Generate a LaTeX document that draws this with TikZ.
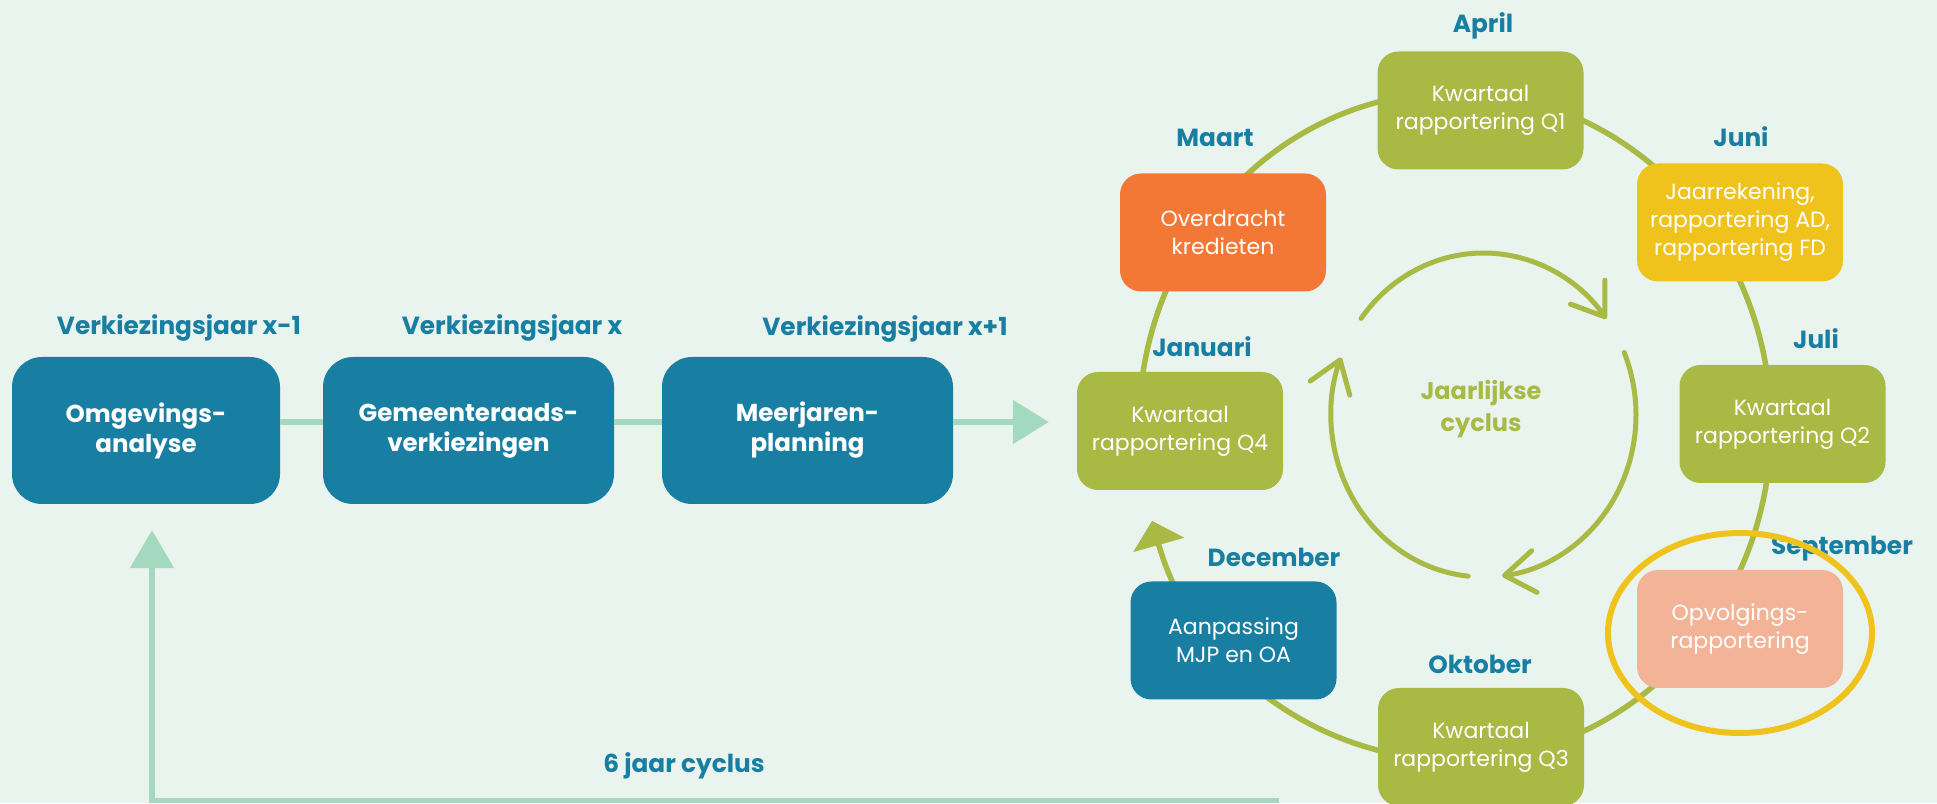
\documentclass[tikz,border=0pt]{standalone}
\usepackage{fontspec}
\setmainfont{Poppins}
\usetikzlibrary{arrows.meta}
\definecolor{bgc}{HTML}{EAF4EE}
\definecolor{mteal}{HTML}{187FA3}
\definecolor{mgreen}{HTML}{A8B944}
\definecolor{morange}{HTML}{F47835}
\definecolor{myellow}{HTML}{EFC21C}
\definecolor{msalmon}{HTML}{F2B396}
\definecolor{mmint}{HTML}{A3D9BF}
\definecolor{mring}{HTML}{F0C21C}
\begin{document}
\begin{tikzpicture}[x=1pt,y=1pt,
  bigbox/.style={fill=mteal, rounded corners=30pt, minimum width=291pt, minimum height=147pt, inner sep=0pt, text=white, font=\bfseries\fontsize{24.5}{30}\selectfont, align=center},
  cbox/.style={rounded corners=21pt, minimum width=206pt, minimum height=118pt, inner sep=0pt, text=white, font=\fontsize{22}{28}\selectfont, align=center},
  lbl/.style={text=mteal, font=\bfseries\fontsize{24.8}{28}\selectfont, anchor=base, inner sep=0pt},
  ring/.style={draw=mgreen, line width=5.5pt},
  inarc/.style={draw=mgreen, line width=5pt, line cap=round},
  barb/.style={-{Straight Barb[length=30pt,width=42pt,line width=5pt,round]}},
  mline/.style={draw=mmint, line width=5.5pt},
]
\fill[bgc] (0,0) rectangle (1937,803);
\useasboundingbox (0,0) rectangle (1937,803);
\clip (0,0) rectangle (1937,803);

% outer yearly ring
\coordinate (oc) at (1455,377);
\draw[ring, -{Triangle[length=25pt,width=52pt]}] ([shift={(185:316pt and 334pt)}]oc) arc[start angle=545, end angle=196.5, x radius=316pt, y radius=334pt];

% inner cycle arrows
\coordinate (ic) at (1483.5,388);
\draw[inarc, barb] ([shift={(143.4:152.5pt and 162pt)}]ic) arc[start angle=143.4, end angle=36.4, x radius=152.5pt, y radius=162pt];
\draw[inarc, barb] ([shift={(22.7:152.5pt and 162pt)}]ic) arc[start angle=22.7, end angle=-83, x radius=152.5pt, y radius=162pt];
\draw[inarc, barb] ([shift={(264.2:152.5pt and 162pt)}]ic) arc[start angle=264.2, end angle=159.2, x radius=152.5pt, y radius=162pt];

\node[text=mgreen, font=\bfseries\fontsize{24}{32}\selectfont, align=center] (jc) at (1481,394) {Jaarlijkse\\cyclus};

% cycle boxes
\node[cbox, fill=mgreen] (q1) at (1480.5,692.5) {Kwartaal\\rapportering Q1};
\node[cbox, fill=morange] (ov) at (1223,570.5) {Overdracht\\kredieten};
\node[cbox, fill=myellow] (jr) at (1740,580.5) {Jaarrekening,\\rapportering AD,\\rapportering FD};
\node[cbox, fill=mgreen] (q4) at (1180,372) {Kwartaal\\rapportering Q4};
\node[cbox, fill=mgreen] (q2) at (1782.5,379) {Kwartaal\\rapportering Q2};
\node[cbox, fill=msalmon] (op) at (1740,174) {Opvolgings-\\rapportering};
\node[cbox, fill=mteal] (aa) at (1233.5,162.5) {Aanpassing\\MJP en OA};
\node[cbox, fill=mgreen] (q3) at (1481,56) {Kwartaal\\rapportering Q3};

% month labels
\node[lbl] (lapr) at (1483,770) {April};
\node[lbl] (lmrt) at (1215,656) {Maart};
\node[lbl] (ljun) at (1741,656) {Juni};
\node[lbl] (ljan) at (1202,446) {Januari};
\node[lbl] (ljul) at (1816,454) {Juli};
\node[lbl] (ldec) at (1274,236) {December};
\node[lbl] (lokt) at (1480,129) {Oktober};
\node[lbl] (lsep) at (1842,248) {September};

% highlight ring
\draw[draw=mring, line width=6pt] (1740,170) ellipse [x radius=132pt, y radius=100pt];

% six-year part
\node[bigbox, minimum width=268pt] (o) at (146,372.5) {Omgevings-\\analyse};
\node[bigbox] (g) at (468.5,372.5) {Gemeenteraads-\\verkiezingen};
\node[bigbox] (m) at (807.5,372.5) {Meerjaren-\\planning};

\node[lbl] (l1) at (179,468) {Verkiezingsjaar x-1};
\node[lbl] (l2) at (512,468) {Verkiezingsjaar x};
\node[lbl] (l3) at (885,467) {Verkiezingsjaar x+1};

\draw[mline] ([yshift=8.5pt]o.east) -- ([yshift=8.5pt]g.west);
\draw[mline] ([yshift=8.5pt]g.east) -- ([yshift=8.5pt]m.west);
\draw[mline, -{Triangle[length=36pt,width=43pt]}] ([yshift=8.5pt]m.east) -- ([xshift=-28pt,yshift=9pt]q4.west);

\coordinate (cend) at (1279,2.5);
\draw[mline, -{Triangle[length=38pt,width=43pt]}] (cend) -| ([xshift=6pt,yshift=-26pt]o.south);
\node[lbl] (six) at (684,31) {6 jaar cyclus};
\end{tikzpicture}
\end{document}
